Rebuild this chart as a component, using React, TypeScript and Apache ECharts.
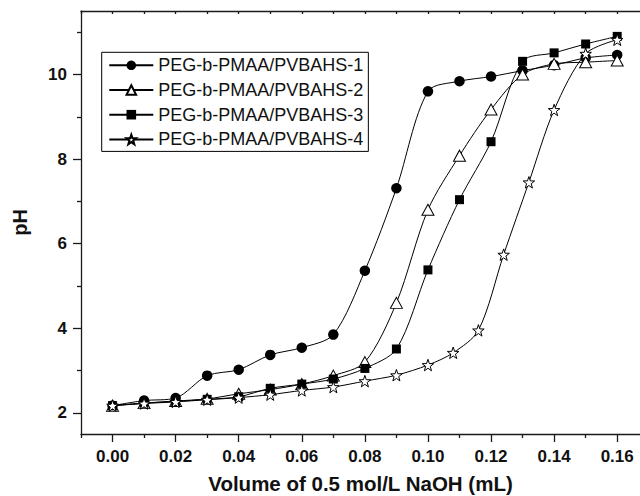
import React, { useEffect, useRef } from "react";
import * as echarts from "echarts";

// Volume of 0.5 mol/L NaOH (mL)
const volume = [0, 0.01, 0.02, 0.03, 0.04, 0.05, 0.06, 0.07, 0.08, 0.09, 0.1, 0.11, 0.12, 0.13, 0.14, 0.15, 0.16];
const volumeStar = [0, 0.01, 0.02, 0.03, 0.04, 0.05, 0.06, 0.07, 0.08, 0.09, 0.1, 0.108, 0.116, 0.124, 0.132, 0.14, 0.15, 0.16];

// pH values
const ph1 = [2.17, 2.29, 2.35, 2.88, 3.02, 3.37, 3.54, 3.85, 5.36, 7.31, 9.6, 9.84, 9.95, 10.09, 10.22, 10.39, 10.46];
const ph2 = [2.17, 2.23, 2.28, 2.33, 2.45, 2.55, 2.68, 2.88, 3.2, 4.6, 6.8, 8.08, 9.17, 10.0, 10.25, 10.29, 10.33];
const ph3 = [2.17, 2.23, 2.27, 2.32, 2.38, 2.58, 2.68, 2.8, 3.05, 3.51, 5.38, 7.04, 8.41, 10.31, 10.51, 10.72, 10.9];
const ph4 = [2.17, 2.22, 2.26, 2.31, 2.36, 2.43, 2.53, 2.61, 2.75, 2.89, 3.13, 3.42, 3.95, 5.74, 7.45, 9.16, 10.49, 10.82];

const seriesNames = ["PEG-b-PMAA/PVBAHS-1", "PEG-b-PMAA/PVBAHS-2", "PEG-b-PMAA/PVBAHS-3", "PEG-b-PMAA/PVBAHS-4"];

const xMajorTicks = [0, 0.02, 0.04, 0.06, 0.08, 0.1, 0.12, 0.14, 0.16];
const xMinorTicks = [-0.01, 0.01, 0.03, 0.05, 0.07, 0.09, 0.11, 0.13, 0.15];
const xTopTicks = [-0.01, 0, 0.01, 0.02, 0.03, 0.04, 0.05, 0.06, 0.07, 0.08, 0.09, 0.1, 0.11, 0.12, 0.13, 0.14, 0.15, 0.16];
const yMajorTicks = [2, 4, 6, 8, 10];
const yMinorTicks = [3, 5, 7, 9, 11];

const STAR = "path://M0,-10L2.35,-3.24L9.51,-3.09L3.8,1.24L5.88,8.09L0,4.1L-5.88,8.09L-3.8,1.24L-9.51,-3.09L-2.35,-3.24Z";
const FONT = "'Liberation Sans', Arial, Helvetica, sans-serif";

const X_MIN = -0.01;
const X_MAX = 0.16723;
const Y_MIN = 1.5;
const Y_MAX = 11.5;

function pairs(xs: number[], ys: number[]) {
  return xs.map((x, i) => [x, ys[i]]);
}

export default function App() {
  const ref = useRef<HTMLDivElement>(null);
  useEffect(() => {
    if (!ref.current) return;
    const chart = echarts.init(ref.current, null, { renderer: "svg" });
    const axisLineStyle = { color: "#1a1a1a", width: 1.3 };
    const labelStyle = { color: "#111", fontFamily: FONT, fontWeight: "bold" as const, fontSize: 17 };
    const lineBase = { color: "#000", width: 1 };
    chart.setOption({
      animation: false,
      backgroundColor: "#fff",
      grid: { left: 81, right: 0, top: 11, bottom: 62, containLabel: false, outerBoundsMode: "none" },
      legend: {
        orient: "vertical",
        left: 101.7,
        top: 52.3,
        padding: [3, 5, 2, 6.6],
        borderColor: "#000",
        borderWidth: 1,
        itemWidth: 44,
        itemHeight: 12,
        itemGap: 4.7,
        textStyle: { color: "#111", fontFamily: FONT, fontSize: 18, lineHeight: 20 },
        data: seriesNames,
      },
      xAxis: [
        {
          type: "value",
          position: "bottom",
          min: X_MIN,
          max: X_MAX,
          axisLine: { show: true, onZero: false, lineStyle: axisLineStyle },
          axisTick: { show: true, customValues: xMajorTicks, length: 8, lineStyle: axisLineStyle },
          axisLabel: {
            customValues: xMajorTicks,
            margin: 14,
            formatter: (v: number) => v.toFixed(2),
            ...labelStyle,
          },
          splitLine: { show: false },
          name: "Volume of 0.5 mol/L NaOH (mL)",
          nameLocation: "middle",
          nameGap: 39,
          nameTextStyle: { color: "#111", fontFamily: FONT, fontWeight: "bold", fontSize: 20.5 },
        },
        {
          type: "value",
          position: "bottom",
          min: X_MIN,
          max: X_MAX,
          axisLine: { show: false, onZero: false },
          axisTick: { show: true, customValues: xMinorTicks, length: 4, lineStyle: axisLineStyle },
          axisLabel: { show: false },
          splitLine: { show: false },
        },
        {
          type: "value",
          position: "top",
          min: X_MIN,
          max: X_MAX,
          axisLine: { show: true, onZero: false, lineStyle: axisLineStyle },
          axisTick: { show: true, inside: true, customValues: xTopTicks, length: 3, lineStyle: axisLineStyle },
          axisLabel: { show: false },
          splitLine: { show: false },
        },
      ],
      yAxis: [
        {
          type: "value",
          position: "left",
          min: Y_MIN,
          max: Y_MAX,
          axisLine: { show: true, onZero: false, lineStyle: axisLineStyle },
          axisTick: { show: true, customValues: yMajorTicks, length: 8, lineStyle: axisLineStyle },
          axisLabel: { customValues: yMajorTicks, margin: 14, ...labelStyle },
          splitLine: { show: false },
          name: "pH",
          nameLocation: "middle",
          nameGap: 51,
          nameTextStyle: { color: "#111", fontFamily: FONT, fontWeight: "bold", fontSize: 20 },
        },
        {
          type: "value",
          position: "left",
          min: Y_MIN,
          max: Y_MAX,
          axisLine: { show: false, onZero: false },
          axisTick: { show: true, customValues: yMinorTicks, length: 4, lineStyle: axisLineStyle },
          axisLabel: { show: false },
          splitLine: { show: false },
        },
      ],
      series: [
        {
          name: seriesNames[0],
          type: "line",
          smooth: 0.3,
          data: pairs(volume, ph1),
          symbol: "circle",
          symbolSize: 10.5,
          itemStyle: { color: "#000" },
          lineStyle: lineBase,
          z: 2,
        },
        {
          name: seriesNames[1],
          type: "line",
          smooth: 0.3,
          data: pairs(volume, ph2),
          symbol: "triangle",
          symbolSize: [12, 11],
          itemStyle: { color: "#fff", borderColor: "#000", borderWidth: 1 },
          lineStyle: lineBase,
          z: 3,
        },
        {
          name: seriesNames[2],
          type: "line",
          smooth: 0.3,
          data: pairs(volume, ph3),
          symbol: "rect",
          symbolSize: 9,
          itemStyle: { color: "#000" },
          lineStyle: lineBase,
          z: 4,
        },
        {
          name: seriesNames[3],
          type: "line",
          smooth: 0.3,
          data: pairs(volumeStar, ph4),
          symbol: STAR,
          symbolSize: 11.5,
          itemStyle: { color: "#fff", borderColor: "#000", borderWidth: 1 },
          lineStyle: lineBase,
          z: 5,
        },
      ],
    });
    return () => chart.dispose();
  }, []);
  return <div ref={ref} style={{ position: "absolute", left: 0, top: 0, width: 640, height: 496 }} />;
}
